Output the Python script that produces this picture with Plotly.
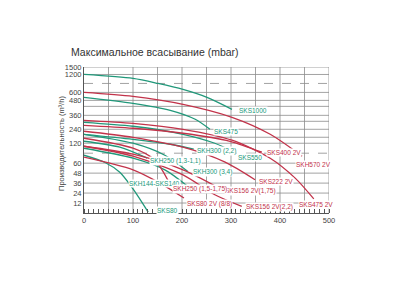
import numpy as np
import plotly.graph_objects as go

GREEN = "#21987a"
RED = "#c2334a"
FONT = "Liberation Sans"
NARROW = "Liberation Sans Narrow, Liberation Sans"

# ---- axis ticks ----
x_ticks = [0, 100, 200, 300, 400, 500]
y_tick_values = [12, 24, 36, 48, 60, 120, 240, 360, 480, 600, 1200, 1500]
# the chart's broken (non-linear) flow scale: value -> axis position
y_break_values = [0, 12, 24, 36, 48, 60, 120, 240, 360, 480, 600, 1200, 1500]
y_break_pos = [0, 10, 20, 30, 40, 50, 70, 84, 98, 113, 121, 139, 146.5]

# ---- series (x: max suction mbar, y: flow m3/h) ----
sks1000_x = [0, 100, 151, 202, 251, 302]
sks1000_y = [1200, 1067, 900, 700, 525, 408]
sks475_x = [0, 100, 176, 227, 257]
sks475_y = [525, 456, 400, 326, 240]
sks550_x = [0, 100, 202, 267, 306]
sks550_y = [300, 266, 197, 120, 93]
skh300_22_x = [0, 100, 176, 224]
skh300_22_y = [197, 154, 117, 102]
skh300_34_x = [0, 100, 165, 212]
skh300_34_y = [197, 120, 84, 50]
skh250_13_x = [0, 73, 129]
skh250_13_y = [137, 108, 75]
skh144_x = [0, 100, 165, 212]
skh144_y = [105, 75, 52, 32]
sks80_x = [0, 43, 73, 100, 131]
sks80_y = [84, 62, 49, 29, 1]

skh570_x = [0, 100, 202, 302, 380, 445]
skh570_y = [600, 540, 448, 343, 197, 81]
sks475_2v_x = [0, 100, 202, 302, 380, 431, 469]
sks475_2v_y = [317, 291, 240, 146, 75, 42, 17]
sks400_x = [0, 100, 202, 298, 363]
sks400_y = [274, 249, 206, 137, 93]
sks222_x = [0, 100, 202, 288, 349]
sks222_y = [223, 171, 108, 63, 40]
skh250_15_x = [0, 100, 145, 176]
skh250_15_y = [163, 105, 69, 34]
sks80_2v_x = [0, 100, 155, 204]
sks80_2v_y = [78, 52, 36, 18]
sks156_175_x = [0, 100, 202, 282]
sks156_175_y = [111, 87, 52, 28]
sks156_22_x = [0, 100, 202, 267, 322]
sks156_22_y = [111, 81, 46, 22, 8]

series = [
    (sks1000_x, sks1000_y, GREEN),
    (sks475_x, sks475_y, GREEN),
    (sks550_x, sks550_y, GREEN),
    (skh300_22_x, skh300_22_y, GREEN),
    (skh300_34_x, skh300_34_y, GREEN),
    (skh250_13_x, skh250_13_y, GREEN),
    (skh144_x, skh144_y, GREEN),
    (sks80_x, sks80_y, GREEN),
    (skh570_x, skh570_y, RED),
    (sks475_2v_x, sks475_2v_y, RED),
    (sks400_x, sks400_y, RED),
    (sks222_x, sks222_y, RED),
    (skh250_15_x, skh250_15_y, RED),
    (sks80_2v_x, sks80_2v_y, RED),
    (sks156_175_x, sks156_175_y, RED),
    (sks156_22_x, sks156_22_y, RED),
]

# label text, colour, anchor (mbar, axis position) for the left edge of the text
labels = [
    ("SKS1000", GREEN, 314, 103),
    ("SKS475", GREEN, 263, 82),
    ("SKH300 (2,2)", GREEN, 229, 62),
    ("SKS550", GREEN, 312, 56),
    ("SKH250 (1,3-1,1)", GREEN, 133, 52),
    ("SKH300 (3,4)", GREEN, 220, 41),
    ("SKH144-SKS140", GREEN, 90, 30),
    ("SKS80", GREEN, 147, 3),
    ("SKS400 2V", RED, 371, 61),
    ("SKH570 2V", RED, 431, 49),
    ("SKS222 2V", RED, 355, 32),
    ("SKS156 2V(1,75)", RED, 286, 22),
    ("SKH250 (1,5-1,75)", RED, 180, 24),
    ("SKS80 2V (8/8)", RED, 208, 9),
    ("SKS156 2V(2,2)", RED, 329, 6),
    ("SKS475 2V", RED, 437, 9),
]


def ypos(v):
    return np.interp(v, y_break_values, y_break_pos)


fig = go.Figure()

extra_grid = [107, 92, 76]
dashed_grid = [130, 60]
for g in list(ypos(y_tick_values)) + extra_grid:
    fig.add_shape(type="line", xref="x", yref="y", x0=0, x1=500, y0=g, y1=g,
                  line=dict(color="#8c8c8c", width=0.8), layer="below")
for g in dashed_grid:
    fig.add_shape(type="line", xref="x", yref="y", x0=0, x1=500, y0=g, y1=g,
                  line=dict(color="#8c8c8c", width=0.8, dash="dash"), layer="below")
for gx in range(50, 501, 50):
    fig.add_shape(type="line", xref="x", yref="y", x0=gx, x1=gx, y0=0, y1=146.5,
                  line=dict(color="#8c8c8c", width=0.8), layer="below")

for xs, ys, col in series:
    fig.add_trace(go.Scatter(x=xs, y=ypos(np.asarray(ys, float)), mode="lines",
                             line=dict(color=col, width=1.3, shape="spline", smoothing=0.8),
                             hoverinfo="skip", showlegend=False))

for text, col, lx, ly in labels:
    fig.add_annotation(x=lx, y=ly, text=text, showarrow=False, xanchor="left", yanchor="middle",
                       bgcolor="white", borderpad=0,
                       font=dict(size=6.5, color=col, family=NARROW))

fig.add_annotation(text="Максимальное всасывание (mbar)", xref="paper", yref="paper",
                   x=(69 - 84) / 245, y=(213 - 52) / 146, xanchor="left", yanchor="middle",
                   showarrow=False, font=dict(size=10.5, color="#333", family=FONT))
fig.add_annotation(text="Производительность (m³/h)", xref="paper", yref="paper",
                   x=(61 - 84) / 245, y=(213 - 144) / 146, xanchor="center", yanchor="middle",
                   textangle=-90, showarrow=False, font=dict(size=7.5, color="#444", family=FONT))

fig.update_layout(
    width=400, height=300, margin=dict(l=84, r=71, t=67, b=87),
    paper_bgcolor="white", plot_bgcolor="white",
    font=dict(family=FONT, color="#444"),
)
fig.update_xaxes(range=[0, 500], tickmode="array", tickvals=x_ticks, ticks="", showgrid=False,
                 showline=True, linecolor="#555", linewidth=1, zeroline=False,
                 tickfont=dict(size=7.5, color="#444", family=NARROW),
                 minor=dict(ticks="inside", ticklen=4, tickmode="linear", tick0=0, dtick=10,
                            tickcolor="#555", showgrid=False))
fig.update_yaxes(range=[0, 146.5], tickmode="array", tickvals=list(ypos(y_tick_values)),
                 ticktext=[str(v) for v in y_tick_values], showgrid=False, zeroline=False, showline=True,
                 linecolor="#555", linewidth=1, tickfont=dict(size=7.5, color="#444", family=NARROW), ticks="")
fig.write_html("out.html")
